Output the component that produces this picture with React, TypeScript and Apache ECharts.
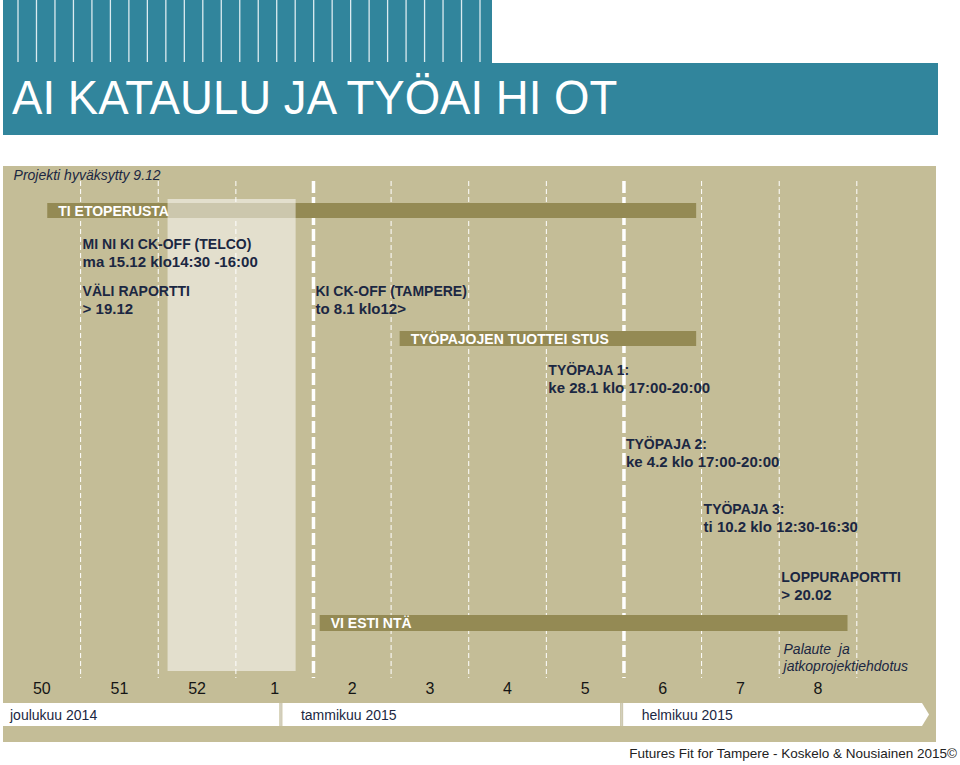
import React, { useEffect, useRef } from 'react';
import * as echarts from 'echarts';

// ---------- data ----------
const weekLabels = ['50', '51', '52', '1', '2', '3', '4', '5', '6', '7', '8'];
const weekBoundaries = [1, 2, 3, 4, 5, 6, 7, 8, 9, 10, 11];
const boundaryIsMonthStep = [0, 0, 0, 1, 0, 0, 0, 1, 0, 0, 0];

const monthNames = ['joulukuu 2014', 'tammikuu 2015', 'helmikuu 2015'];
const monthStart = [0, 3.58, 7.97];
const monthEnd = [3.58, 7.97, 11.84];

const phaseNames = ['TI ETOPERUSTA', 'TYÖPAJOJEN TUOTTEI STUS', 'VI ESTI NTÄ'];
const phaseStart = [0.57, 5.11, 4.08];
const phaseEnd = [8.93, 8.93, 10.88];
const phaseRow = [44.5, 172.5, 457];

const holidayStart = 2.12;
const holidayEnd = 3.77;

const milestoneTitles = [
  'MI NI KI CK-OFF (TELCO)',
  'VÄLI RAPORTTI',
  'KI CK-OFF (TAMPERE)',
  'TYÖPAJA 1:',
  'TYÖPAJA 2:',
  'TYÖPAJA 3:',
  'LOPPURAPORTTI',
];
const milestoneDetails = [
  'ma 15.12 klo14:30 -16:00',
  '> 19.12',
  'to 8.1 klo12>',
  'ke 28.1 klo 17:00-20:00',
  'ke 4.2 klo 17:00-20:00',
  'ti 10.2 klo 12:30-16:30',
  '> 20.02',
];
const milestoneWeek = [1, 1, 4, 7, 8, 9, 10];
const milestoneRow = [78, 125, 125, 204, 278, 343, 411];

const noteLines = [['Projekti hyväksytty 9.12'], ['Palaute  ja', 'jatkoprojektiehdotus']];
const noteWeek = [0.11, 10.03];
const noteRow = [9, 483];

const titleText = 'AI KATAULU JA TYÖAI HI OT';
const footerText = 'Futures Fit for Tampere - Koskelo & Nousiainen 2015©';

// ---------- layout / style ----------
const FONT = '"Liberation Sans", Arial, Helvetica, sans-serif';
const TEAL = '#31859c';
const TAN = '#c4bd97';
const OLIVE = '#948a54';
const NAVY = '#1b2742';
const ROW_MAX = 576;
const LINE_TOP = 15;
const LINE_BOTTOM = 512;
const HOLIDAY_TOP = 33;
const HOLIDAY_BOTTOM = 505;
const WEEK_ROW = 522;
const BAND_TOP = 537;
const BAND_BOTTOM = 560;

export default function App() {
  const ref = useRef<HTMLDivElement>(null);

  useEffect(() => {
    if (!ref.current) return;
    const chart = echarts.init(ref.current, undefined, { renderer: 'svg' });

    const stripes: any[] = [];
    for (let i = 0; i < 26; i++) {
      const x = 18 + i * 18.48;
      stripes.push({
        type: 'line',
        shape: { x1: x, y1: 0, x2: x, y2: 62 },
        style: { stroke: '#dcebf0', lineWidth: 1.3 },
        z: 2,
      });
    }

    const option: any = {
      animation: false,
      textStyle: { fontFamily: FONT },
      grid: {
        left: 3,
        right: 24,
        top: 166,
        bottom: 23,
        show: true,
        backgroundColor: TAN,
        borderWidth: 0,
      },
      xAxis: { type: 'value', min: 0, max: 12.02, show: false },
      yAxis: { type: 'value', min: 0, max: ROW_MAX, inverse: true, show: false },
      graphic: [
        {
          type: 'polygon',
          shape: {
            points: [
              [3, 0],
              [492, 0],
              [492, 63],
              [938, 63],
              [938, 135],
              [3, 135],
            ],
          },
          style: { fill: TEAL },
          z: 1,
        },
        ...stripes,
        {
          type: 'text',
          x: 12,
          y: 98,
          scaleX: 0.95,
          style: {
            text: titleText,
            fill: '#ffffff',
            font: `normal 48px ${FONT}`,
            textAlign: 'left',
            textVerticalAlign: 'middle',
          },
          z: 3,
        },
        {
          type: 'text',
          x: 957,
          y: 753,
          style: {
            text: footerText,
            fill: '#222222',
            font: `normal 13.5px ${FONT}`,
            textAlign: 'right',
            textVerticalAlign: 'middle',
          },
          z: 3,
        },
      ],
      series: [
        // dashed week boundaries
        {
          type: 'custom',
          z: 2,
          silent: true,
          data: weekBoundaries.map((b, i) => [b, LINE_TOP, boundaryIsMonthStep[i]]),
          renderItem: (_p: any, api: any) => {
            const thick = api.value(2) === 1;
            const a = api.coord([api.value(0), LINE_TOP]);
            const b = api.coord([api.value(0), LINE_BOTTOM]);
            return {
              type: 'line',
              shape: { x1: a[0], y1: a[1], x2: b[0], y2: b[1] },
              style: {
                stroke: '#ffffff',
                lineWidth: thick ? 3.5 : 1,
                lineDash: thick ? [12, 4] : [5, 3],
              },
            };
          },
        },
        // phase bars
        {
          type: 'custom',
          z: 3,
          silent: true,
          data: phaseStart.map((s, i) => [s, phaseRow[i], phaseEnd[i]]),
          renderItem: (p: any, api: any) => {
            const a = api.coord([api.value(0), api.value(1)]);
            const b = api.coord([api.value(2), api.value(1)]);
            const h = p.dataIndex === 2 ? 16 : 15;
            return {
              type: 'rect',
              shape: { x: a[0], y: a[1] - h / 2, width: b[0] - a[0], height: h },
              style: { fill: OLIVE },
            };
          },
        },
        // Christmas holiday shading
        {
          type: 'custom',
          z: 4,
          silent: true,
          data: [[holidayStart, HOLIDAY_TOP, holidayEnd, HOLIDAY_BOTTOM]],
          renderItem: (_p: any, api: any) => {
            const a = api.coord([api.value(0), api.value(1)]);
            const b = api.coord([api.value(2), api.value(3)]);
            return {
              type: 'rect',
              shape: { x: a[0], y: a[1], width: b[0] - a[0], height: b[1] - a[1] },
              style: { fill: 'rgba(255,255,255,0.52)' },
            };
          },
        },
        // phase labels
        {
          type: 'custom',
          z: 5,
          silent: true,
          data: phaseStart.map((s, i) => [s, phaseRow[i]]),
          renderItem: (p: any, api: any) => {
            const a = api.coord([api.value(0), api.value(1)]);
            return {
              type: 'text',
              x: a[0] + 11,
              y: a[1],
              style: {
                text: phaseNames[p.dataIndex],
                fill: '#ffffff',
                font: `bold 14px ${FONT}`,
                textAlign: 'left',
                textVerticalAlign: 'middle',
              },
            };
          },
        },
        // milestones
        {
          type: 'custom',
          z: 5,
          silent: true,
          data: milestoneWeek.map((w, i) => [w, milestoneRow[i]]),
          renderItem: (p: any, api: any) => {
            const a = api.coord([api.value(0), api.value(1)]);
            const x = a[0] + 2;
            return {
              type: 'group',
              children: [
                {
                  type: 'text',
                  x,
                  y: a[1],
                  style: {
                    text: milestoneTitles[p.dataIndex],
                    fill: NAVY,
                    font: `bold 14px ${FONT}`,
                    textAlign: 'left',
                    textVerticalAlign: 'middle',
                  },
                },
                {
                  type: 'text',
                  x,
                  y: a[1] + 17.5,
                  style: {
                    text: milestoneDetails[p.dataIndex],
                    fill: NAVY,
                    font: `bold 15px ${FONT}`,
                    textAlign: 'left',
                    textVerticalAlign: 'middle',
                  },
                },
              ],
            };
          },
        },
        // italic notes
        {
          type: 'custom',
          z: 5,
          silent: true,
          data: noteWeek.map((w, i) => [w, noteRow[i]]),
          renderItem: (p: any, api: any) => {
            const a = api.coord([api.value(0), api.value(1)]);
            const lines = noteLines[p.dataIndex];
            return {
              type: 'group',
              children: lines.map((t, k) => ({
                type: 'text',
                x: a[0] + 2,
                y: a[1] + k * 17,
                style: {
                  text: t,
                  fill: NAVY,
                  font: `italic 14px ${FONT}`,
                  textAlign: 'left',
                  textVerticalAlign: 'middle',
                },
              })),
            };
          },
        },
        // week numbers
        {
          type: 'custom',
          z: 5,
          silent: true,
          data: weekLabels.map((_w, i) => [i + 0.5, WEEK_ROW]),
          renderItem: (p: any, api: any) => {
            const a = api.coord([api.value(0), api.value(1)]);
            return {
              type: 'text',
              x: a[0],
              y: a[1],
              style: {
                text: weekLabels[p.dataIndex],
                fill: '#151515',
                font: `normal 16px ${FONT}`,
                textAlign: 'center',
                textVerticalAlign: 'middle',
              },
            };
          },
        },
        // month band
        {
          type: 'custom',
          z: 5,
          silent: true,
          data: monthStart.map((s, i) => [s, BAND_TOP, monthEnd[i], BAND_BOTTOM]),
          renderItem: (p: any, api: any) => {
            const a = api.coord([api.value(0), api.value(1)]);
            const b = api.coord([api.value(2), api.value(3)]);
            const last = p.dataIndex === monthNames.length - 1;
            const first = p.dataIndex === 0;
            const midY = (a[1] + b[1]) / 2;
            const x0 = first ? a[0] : a[0] + 1.5;
            const x1 = last ? b[0] : b[0] - 1.5;
            const pts = last
              ? [
                  [x0, a[1]],
                  [x1, a[1]],
                  [x1 + 7, midY],
                  [x1, b[1]],
                  [x0, b[1]],
                ]
              : [
                  [x0, a[1]],
                  [x1, a[1]],
                  [x1, b[1]],
                  [x0, b[1]],
                ];
            const children: any[] = [
              { type: 'polygon', shape: { points: pts }, style: { fill: '#ffffff' } },
              {
                type: 'text',
                x: a[0] + (first ? 7 : 20),
                y: midY,
                style: {
                  text: monthNames[p.dataIndex],
                  fill: NAVY,
                  font: `normal 14px ${FONT}`,
                  textAlign: 'left',
                  textVerticalAlign: 'middle',
                },
              },
            ];
            if (!first) {
              children.push({
                type: 'line',
                shape: { x1: a[0], y1: a[1], x2: a[0], y2: b[1] },
                style: { stroke: '#d3cfbd', lineWidth: 2 },
              });
            }
            return { type: 'group', children };
          },
        },
      ],
    };

    chart.setOption(option);
    return () => chart.dispose();
  }, []);

  return (
    <div
      ref={ref}
      style={{ position: 'absolute', left: 0, top: 0, width: 960, height: 765 }}
    />
  );
}
